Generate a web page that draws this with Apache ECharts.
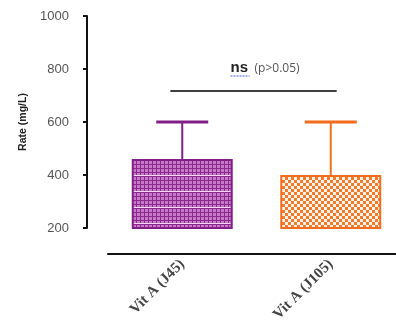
<!DOCTYPE html>
<html><head><meta charset="utf-8">
<script src="https://cdn.jsdelivr.net/npm/echarts@6/dist/echarts.min.js"></script>
<style>html,body{margin:0;padding:0;background:#fff}#c{width:396px;height:336px}</style>
</head><body><div id="c"></div>
<script>
const categories = ['Vit A (J45)', 'Vit A (J105)'];
const means = [460, 400];
const errTops = [600, 600];
const yTicks = [200, 400, 600, 800, 1000];
const sigValue = 717;
const sigText = ['ns', '(p>0.05)'];

function purplePattern() {
  const c = document.createElement('canvas'); c.width = 4; c.height = 16;
  const g = c.getContext('2d');
  g.fillStyle = '#c878c9'; g.fillRect(0, 0, 4, 16);
  g.fillStyle = '#8a2a8d';
  for (let y = 0; y < 16; y += 4) g.fillRect(0, y, 4, 1);
  g.fillRect(0, 0, 1, 16);
  g.fillStyle = '#f2d8f2'; g.fillRect(0, 15, 4, 1);
  return c;
}
function orangePattern() {
  const c = document.createElement('canvas'); c.width = 6; c.height = 6;
  const g = c.getContext('2d');
  g.fillStyle = '#fff3ea'; g.fillRect(0, 0, 6, 6);
  g.fillStyle = '#f47a2c';
  g.fillRect(0, 0, 3, 3); g.fillRect(3, 3, 3, 3);
  return c;
}
const barColors = ['#821f86', '#f26d1d'];
const barFills = [purplePattern(), orangePattern()];

const chart = echarts.init(document.getElementById('c'), null, {renderer: 'canvas'});
chart.setOption({
  animation: false,
  grid: {left: 108, top: 16, width: 297, height: 212, outerBoundsMode: 'none', containLabel: false},
  xAxis: {
    type: 'category', data: categories, offset: 26,
    axisLine: {lineStyle: {color: '#111', width: 2}},
    axisTick: {alignWithLabel: true, length: 4, lineStyle: {color: '#111', width: 2}},
    axisLabel: {rotate: 45, margin: 8, color: '#444', fontFamily: 'Liberation Serif', fontWeight: 'bold', fontSize: 15}
  },
  yAxis: {
    type: 'value', min: yTicks[0], max: yTicks[yTicks.length - 1], interval: 200, offset: 21,
    name: 'Rate (mg/L)', nameLocation: 'middle', nameGap: 58,
    nameTextStyle: {fontFamily: 'Liberation Sans', fontWeight: 'bold', fontSize: 10.5, color: '#222'},
    axisLine: {show: true, lineStyle: {color: '#111', width: 2}},
    axisTick: {show: true, length: 4, lineStyle: {color: '#111', width: 2}},
    axisLabel: {margin: 18, color: '#555', fontFamily: 'Liberation Sans', fontSize: 13, formatter: v => String(v)},
    splitLine: {show: false}
  },
  series: [
    {
      type: 'bar', barWidth: '68%',
      data: means.map((v, i) => ({
        value: v,
        itemStyle: {color: {image: barFills[i], repeat: 'repeat'}, borderColor: barColors[i], borderWidth: 2}
      }))
    },
    {
      type: 'custom',
      data: means.map((m, i) => [i, m, errTops[i]]),
      renderItem: function (params, api) {
        const i = api.value(0);
        const p1 = api.coord([i, api.value(1)]);
        const p2 = api.coord([i, api.value(2)]);
        const bw = api.size([1, 0])[0];
        const half = bw * 0.175;
        const col = barColors[i];
        return {type: 'group', children: [
          {type: 'line', shape: {x1: p1[0], y1: p1[1], x2: p2[0], y2: p2[1]}, style: {stroke: col, lineWidth: 2}},
          {type: 'line', shape: {x1: p2[0] - half, y1: p2[1], x2: p2[0] + half, y2: p2[1]}, style: {stroke: col, lineWidth: 3}}
        ]};
      },
      z: 3
    },
    {
      type: 'custom',
      data: [[0, sigValue]],
      renderItem: function (params, api) {
        const a = api.coord([0, api.value(1)]);
        const b = api.coord([1, api.value(1)]);
        const bw = api.size([1, 0])[0];
        const x1 = a[0] - bw * 0.08, x2 = b[0] + bw * 0.04;
        const y = a[1];
        const mx = (x1 + x2) / 2;
        return {type: 'group', children: [
          {type: 'line', shape: {x1: x1, y1: y, x2: x2, y2: y}, style: {stroke: '#000', lineWidth: 1.5}},
          {type: 'text', x: mx - 23, y: y - 23, style: {text: sigText[0], fill: '#222', font: 'bold 15px Liberation Sans', align: 'left', verticalAlign: 'middle'}},
          {type: 'line', shape: {x1: mx - 23, y1: y - 15, x2: mx - 4, y2: y - 15}, style: {stroke: '#4a5fd0', lineWidth: 1.2, lineDash: [2, 1]}},
          {type: 'text', x: mx + 1, y: y - 22, style: {text: sigText[1], fill: '#555', font: '12px Open Sans', align: 'left', verticalAlign: 'middle'}}
        ]};
      }
    }
  ]
});
</script></body></html>
